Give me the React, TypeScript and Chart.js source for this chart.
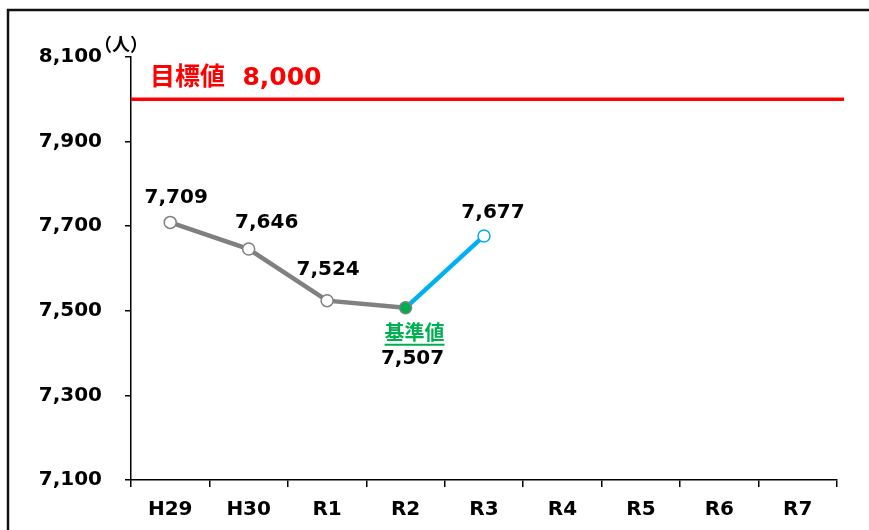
import React, { useEffect, useRef } from "react";
import { Chart, registerables } from "chart.js";

Chart.register(...registerables);

const categories = ["H29", "H30", "R1", "R2", "R3", "R4", "R5", "R6", "R7"];
const actualValues = [7709, 7646, 7524, 7507, null, null, null, null, null];
const recentValues = [null, null, null, 7507, 7677, null, null, null, null];
const targetValue = 8000;
const targetLabel = "目標値  8,000";
const baselineLabel = "基準値";
const baselineIndex = 3;
const yMin = 7100;
const yMax = 8100;
const yStep = 200;
const unitLabel = "（人）";

const GRAY = "#808080";
const BLUE = "#00b0f0";
const GREEN = "#00b050";
const RED = "#ff0000";
const NUM_FONT = "'DejaVu Sans', 'Noto Sans CJK JP', sans-serif";
const JP_FONT = "'Noto Sans CJK JP', 'DejaVu Sans', sans-serif";

// label offsets (px) relative to each point: [dx, dy]
const labelOffsets: Record<string, [number, number]> = {
  "0-0": [6, -25],
  "0-1": [18, -26],
  "0-2": [1, -31],
  "0-3": [7, 51],
  "1-4": [9, -23],
};

const fmt = (v: number) => v.toLocaleString("en-US");

const overlayPlugin = {
  id: "overlay",
  beforeDraw(chart: any) {
    const ctx = chart.ctx;
    ctx.save();
    ctx.fillStyle = "#ffffff";
    ctx.fillRect(0, 0, chart.width, chart.height);
    ctx.strokeStyle = "#111";
    ctx.lineWidth = 2.5;
    ctx.beginPath();
    ctx.moveTo(8, chart.height);
    ctx.lineTo(8, 10);
    ctx.lineTo(chart.width, 10);
    ctx.stroke();
    ctx.restore();
  },
  afterDatasetsDraw(chart: any) {
    const ctx = chart.ctx;
    const ys = chart.scales.y;
    const area = chart.chartArea;
    ctx.save();
    // target line
    const ty = ys.getPixelForValue(targetValue);
    ctx.strokeStyle = RED;
    ctx.lineWidth = 3.5;
    ctx.beginPath();
    ctx.moveTo(area.left, ty);
    ctx.lineTo(area.right + 7, ty);
    ctx.stroke();
    ctx.fillStyle = RED;
    ctx.font = `bold 25px ${NUM_FONT}`;
    ctx.textAlign = "left";
    ctx.textBaseline = "middle";
    ctx.fillText(targetLabel, area.left + 19, ty - 21);

    // unit label
    ctx.fillStyle = "#000";
    ctx.font = `bold 18px ${JP_FONT}`;
    ctx.textAlign = "center";
    ctx.fillText(unitLabel, area.left - 10, area.top - 13);

    // data labels
    ctx.font = `bold 20px ${NUM_FONT}`;
    ctx.textAlign = "center";
    ctx.textBaseline = "middle";
    chart.data.datasets.forEach((ds: any, di: number) => {
      const meta = chart.getDatasetMeta(di);
      ds.data.forEach((v: number | null, i: number) => {
        const off = labelOffsets[`${di}-${i}`];
        if (v == null || !off) return;
        const pt = meta.data[i];
        ctx.fillStyle = "#000";
        ctx.fillText(fmt(v), pt.x + off[0], pt.y + off[1]);
      });
    });

    // baseline label
    const bpt = chart.getDatasetMeta(0).data[baselineIndex];
    ctx.font = `bold 20px ${JP_FONT}`;
    ctx.fillStyle = GREEN;
    const bx = bpt.x + 9;
    const by = bpt.y + 25;
    ctx.fillText(baselineLabel, bx, by);
    const w = ctx.measureText(baselineLabel).width;
    ctx.strokeStyle = GREEN;
    ctx.lineWidth = 2;
    ctx.beginPath();
    ctx.moveTo(bx - w / 2, by + 12);
    ctx.lineTo(bx + w / 2, by + 12);
    ctx.stroke();
    ctx.restore();
  },
};

export default function App() {
  const ref = useRef<HTMLCanvasElement | null>(null);
  useEffect(() => {
    if (!ref.current) return;
    const chart = new Chart(ref.current, {
      type: "line",
      data: {
        labels: categories,
        datasets: [
          {
            data: actualValues as any,
            borderColor: GRAY,
            borderWidth: 4.5,
            pointRadius: 6,
            pointBorderWidth: 1.5,
            pointBorderColor: GRAY,
            pointBackgroundColor: actualValues.map((_, i) => (i === baselineIndex ? GREEN : "#fff")),
            order: 0,
          },
          {
            data: recentValues as any,
            borderColor: BLUE,
            borderWidth: 4.5,
            pointRadius: recentValues.map((v, i) => (v != null && i !== baselineIndex ? 6 : 0)),
            pointBorderWidth: 1.5,
            pointBorderColor: BLUE,
            pointBackgroundColor: "#fff",
            order: 1,
          },
        ],
      },
      options: {
        responsive: false,
        animation: false,
        layout: { padding: { left: 0, top: 57, right: 32, bottom: 0 } },
        plugins: { legend: { display: false }, tooltip: { enabled: false } },
        scales: {
          x: {
            offset: true,
            grid: { offset: true, drawOnChartArea: false, color: "#000", tickLength: 7, lineWidth: 1.5 },
            border: { color: "#000", width: 1.5 },
            ticks: { color: "#000", font: { family: NUM_FONT, size: 20, weight: "bold" }, padding: 11 },
            afterFit: (s: any) => { s.height = 50; },
          },
          y: {
            min: yMin,
            max: yMax,
            grid: { drawOnChartArea: false, color: "#000", tickLength: 6, lineWidth: 1.5 },
            border: { color: "#000", width: 1.5 },
            ticks: {
              stepSize: yStep,
              color: "#000",
              padding: 23,
              font: { family: NUM_FONT, size: 20, weight: "bold" },
              callback: (v: any) => fmt(Number(v)),
            },
            afterFit: (s: any) => { s.width = 131; },
          },
        },
      },
      plugins: [overlayPlugin],
    });
    return () => chart.destroy();
  }, []);
  return (
    <div style={{ position: "absolute", left: 0, top: 0, width: 869, height: 530 }}>
      <canvas ref={ref} width={869} height={530} />
    </div>
  );
}
